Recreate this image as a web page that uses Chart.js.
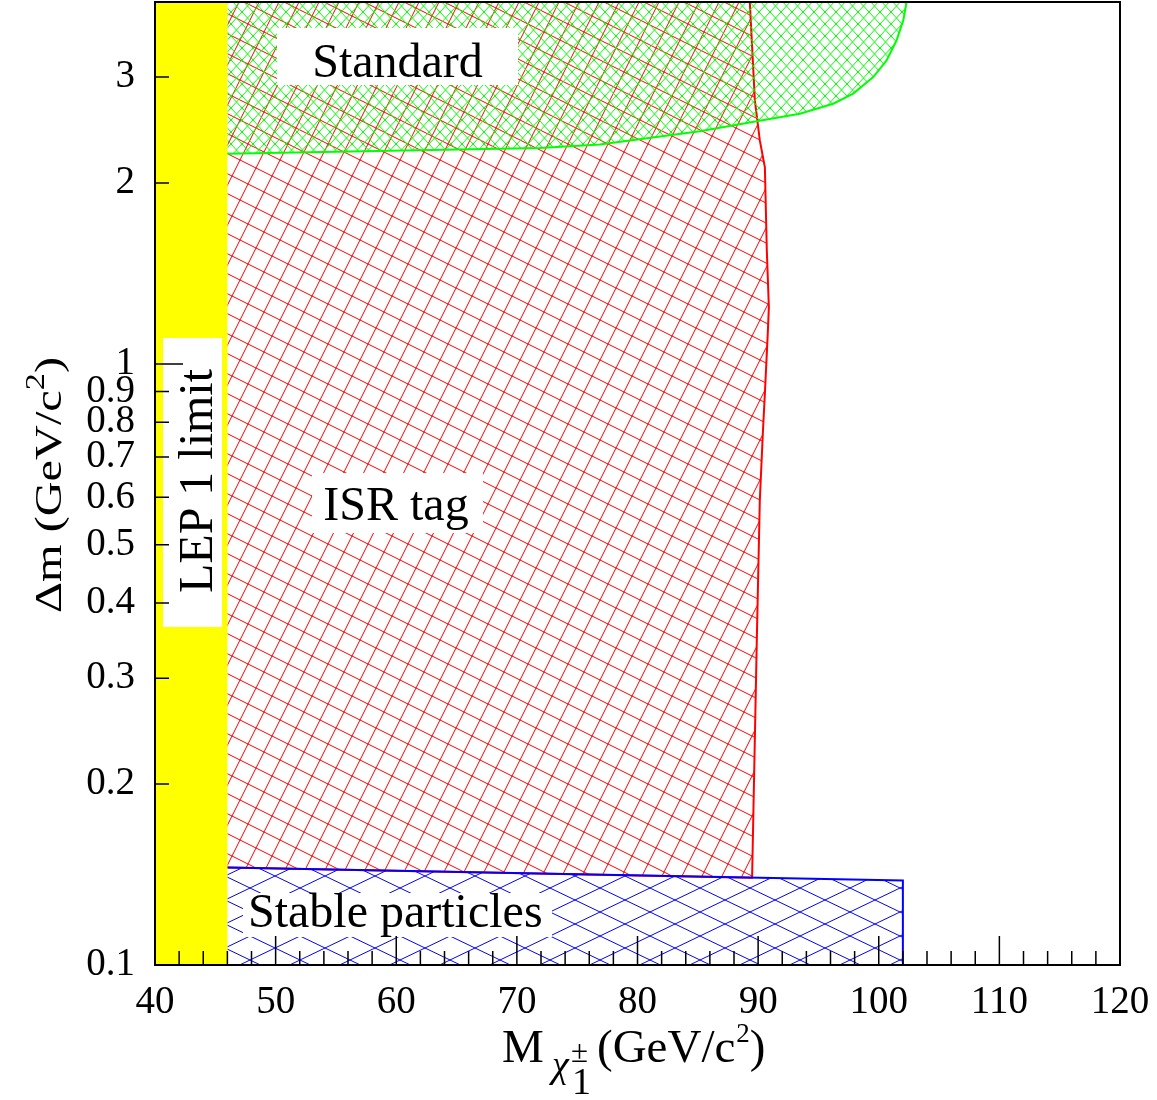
<!DOCTYPE html>
<html>
<head>
<meta charset="utf-8">
<title>Chargino search regions</title>
<script src="https://cdn.jsdelivr.net/npm/chart.js@4.4.1/dist/chart.umd.min.js"></script>
<style>
  html, body { margin: 0; padding: 0; background: #ffffff; }
  #chart { display: block; }
</style>
</head>
<body>
<canvas id="chart" width="1157" height="1100"></canvas>
<script>
// Axis ticks
const xTickValues = [40, 50, 60, 70, 80, 90, 100, 110, 120];
const yTickValues = [0.1, 0.2, 0.3, 0.4, 0.5, 0.6, 0.7, 0.8, 0.9, 1, 2, 3];
const xMinorStep = 2;

// LEP 1 limit band
const lepX = [40, 46, 46, 40];
const lepY = [0.1, 0.1, 4, 4];

// ISR tag region (top edge, right edge going down, bottom edge)
const isrX = [46, 89.31, 89.73, 90.14, 90.56, 90.72, 90.89, 90.80, 90.56, 90.39, 90.14, 89.89, 89.5, 46];
const isrY = [4, 4, 2.744, 2.354, 2.123, 1.545, 1.242, 1.124, 0.893, 0.766, 0.593, 0.347, 0.1397, 0.1453];

// Standard analysis region
const stdX = [46, 102.31, 102.03, 101.48, 100.65, 99.54, 97.88, 96.22, 93.46, 90.0, 85.16, 76.87, 71.89, 46];
const stdY = [4, 4, 3.728, 3.454, 3.199, 3.001, 2.816, 2.709, 2.608, 2.535, 2.437, 2.318, 2.286, 2.237];

// Stable particles region
const stableX = [46, 102, 102, 46];
const stableY = [0.1453, 0.1382, 0.1, 0.1];

const SERIF = '"Liberation Serif", "Times New Roman", serif';
const canvas = document.getElementById('chart');
const mainCtx = canvas.getContext('2d');

function toPoints(xs, ys) {
    return xs.map((x, i) => ({ x: x, y: ys[i] }));
}

// diamond cross-hatch: two families of lines through the tile corners
function diamondHatch(color, w, h) {
    const c = document.createElement('canvas');
    c.width = w;
    c.height = h;
    const g = c.getContext('2d');
    g.strokeStyle = color;
    g.lineWidth = 1;
    g.beginPath();
    for (let k = -2; k <= 2; k++) {
        g.moveTo(k * w - w, -h);
        g.lineTo(k * w + 2 * w, 2 * h);
        g.moveTo(k * w - w, 2 * h);
        g.lineTo(k * w + 2 * w, -h);
    }
    g.stroke();
    return mainCtx.createPattern(c, 'repeat');
}

// square grid tilted by atan(1/2), periodic on a c x c tile
function tiltedGrid(color, c) {
    const t = document.createElement('canvas');
    t.width = c;
    t.height = c;
    const g = t.getContext('2d');
    g.strokeStyle = color;
    g.lineWidth = 1;
    g.beginPath();
    for (let k = -4; k <= 4; k++) {
        // -x + 2y = c*k
        g.moveTo(-c, (-c + c * k) / 2);
        g.lineTo(2 * c, (2 * c + c * k) / 2);
        // 2x + y = c*k
        g.moveTo(-c, c * k + 2 * c);
        g.lineTo(2 * c, c * k - 4 * c);
    }
    g.stroke();
    return mainCtx.createPattern(t, 'repeat');
}

const redHatch = tiltedGrid('#ff0000', 40);
const greenHatch = diamondHatch('#00ff00', 11, 12);
const blueHatch = diamondHatch('#0000ff', 50, 24);

function region(points, fillStyle, border, order) {
    return {
        data: points,
        fill: 'shape',
        backgroundColor: fillStyle,
        borderColor: border || 'rgba(0,0,0,0)',
        borderWidth: border ? 2 : 0,
        pointRadius: 0,
        pointHoverRadius: 0,
        tension: 0,
        order: order
    };
}

// white boxes with labels, custom tick marks and the frame
const decorations = {
    id: 'decorations',
    afterDraw(chart) {
        const ctx = chart.ctx;
        const a = chart.chartArea;
        const xs = chart.scales.x;
        const ys = chart.scales.y;
        ctx.save();
        ctx.fillStyle = '#000';
        ctx.textBaseline = 'alphabetic';

        // label boxes
        const boxes = [
            { text: 'Standard', box: [277, 28, 241, 57], tx: 397.5, ty: 77, align: 'center' },
            { text: 'ISR tag', box: [312, 473, 171, 60], tx: 396, ty: 520, align: 'center' },
            { text: 'Stable particles', box: [243, 893, 309, 44], tx: 248, ty: 927, align: 'left' }
        ];
        boxes.forEach(b => {
            ctx.fillStyle = '#ffffff';
            ctx.fillRect(b.box[0], b.box[1], b.box[2], b.box[3]);
            ctx.fillStyle = '#000';
            ctx.font = '48px ' + SERIF;
            ctx.textAlign = b.align;
            ctx.fillText(b.text, b.tx, b.ty);
        });

        // vertical LEP box
        ctx.fillStyle = '#ffffff';
        ctx.fillRect(163, 338, 59, 289);
        ctx.fillStyle = '#000';
        ctx.save();
        ctx.translate(212, 481);
        ctx.rotate(-Math.PI / 2);
        ctx.font = '48px ' + SERIF;
        ctx.textAlign = 'center';
        ctx.fillText('LEP 1 limit', 0, 0);
        ctx.restore();

        // tick marks pointing into the plot
        ctx.strokeStyle = '#000';
        ctx.lineWidth = 1.5;
        ctx.beginPath();
        for (let v = xs.min; v <= xs.max; v += xMinorStep) {
            const px = xs.getPixelForValue(v);
            const len = v % 10 === 0 ? 29 : 14;
            ctx.moveTo(px, a.bottom);
            ctx.lineTo(px, a.bottom - len);
        }
        yTickValues.forEach(v => {
            const py = ys.getPixelForValue(v);
            const len = (v === 0.1 || v === 1) ? 28 : 14;
            ctx.moveTo(a.left, py);
            ctx.lineTo(a.left + len, py);
        });
        ctx.stroke();

        // frame
        ctx.lineWidth = 2;
        ctx.strokeRect(a.left, a.top, a.right - a.left, a.bottom - a.top);

        // x title: M chi_1^+- (GeV/c^2)
        ctx.textAlign = 'left';
        ctx.font = '47px ' + SERIF;
        ctx.fillText('M', 502, 1062);
        ctx.font = 'italic 38px ' + SERIF;
        ctx.fillText('\u03c7', 552, 1077);
        ctx.font = '31px ' + SERIF;
        ctx.fillText('\u00b1', 571, 1062);
        ctx.font = '38px ' + SERIF;
        ctx.fillText('1', 572, 1094);
        ctx.font = '47px ' + SERIF;
        let cx = 597;
        ctx.fillText('(GeV/c', cx, 1062);
        cx += ctx.measureText('(GeV/c').width + 1;
        ctx.font = '27px ' + SERIF;
        ctx.fillText('2', cx, 1042);
        cx += ctx.measureText('2').width;
        ctx.font = '47px ' + SERIF;
        ctx.fillText(')', cx, 1062);

        // y title: Delta m (GeV/c^2), stretched along the text to the reference length
        const parts = [['\u0394m (GeV/c', 38, 0], ['2', 27, -17], [')', 38, 0]];
        let total = 0;
        const widths = parts.map(p => {
            ctx.font = p[1] + 'px ' + SERIF;
            const w = ctx.measureText(p[0]).width;
            total += w;
            return w;
        });
        ctx.save();
        ctx.translate(61, 613);
        ctx.rotate(-Math.PI / 2);
        ctx.scale(256 / total, 1);
        let ox = 0;
        parts.forEach((p, i) => {
            ctx.font = p[1] + 'px ' + SERIF;
            ctx.fillText(p[0], ox, p[2]);
            ox += widths[i];
        });
        ctx.restore();

        ctx.restore();
    }
};

new Chart(canvas, {
    type: 'line',
    data: {
        datasets: [
            region(toPoints(lepX, lepY), '#ffff00', null, 0),
            region(toPoints(stableX, stableY), blueHatch, '#0000ff', 1),
            region(toPoints(stdX, stdY), greenHatch, '#00ff00', 2),
            region(toPoints(isrX, isrY), redHatch, '#ff0000', 3)
        ]
    },
    options: {
        responsive: false,
        animation: false,
        events: [],
        layout: { padding: { left: 0, right: 37, top: 2, bottom: 0 } },
        plugins: {
            legend: { display: false },
            tooltip: { enabled: false }
        },
        scales: {
            x: {
                type: 'linear',
                min: 40,
                max: 120,
                grid: { display: false, drawTicks: false },
                border: { display: false },
                afterBuildTicks: scale => {
                    scale.ticks = xTickValues.map(v => ({ value: v }));
                },
                afterFit: scale => {
                    scale.height = 135;
                    scale.paddingLeft = 0;
                    scale.paddingRight = 0;
                },
                ticks: {
                    autoSkip: false,
                    maxRotation: 0,
                    padding: 14,
                    color: '#000',
                    font: { family: SERIF, size: 39 },
                    callback: v => String(v)
                }
            },
            y: {
                type: 'logarithmic',
                min: 0.1,
                max: 4,
                grid: { display: false, drawTicks: false },
                border: { display: false },
                afterBuildTicks: scale => {
                    scale.ticks = yTickValues.map(v => ({ value: v }));
                },
                afterFit: scale => {
                    scale.width = 155;
                    scale.paddingTop = 0;
                    scale.paddingBottom = 0;
                },
                ticks: {
                    autoSkip: false,
                    padding: 20,
                    color: '#000',
                    font: { family: SERIF, size: 39 },
                    callback: v => String(v)
                }
            }
        }
    },
    plugins: [decorations]
});
</script>
</body>
</html>
